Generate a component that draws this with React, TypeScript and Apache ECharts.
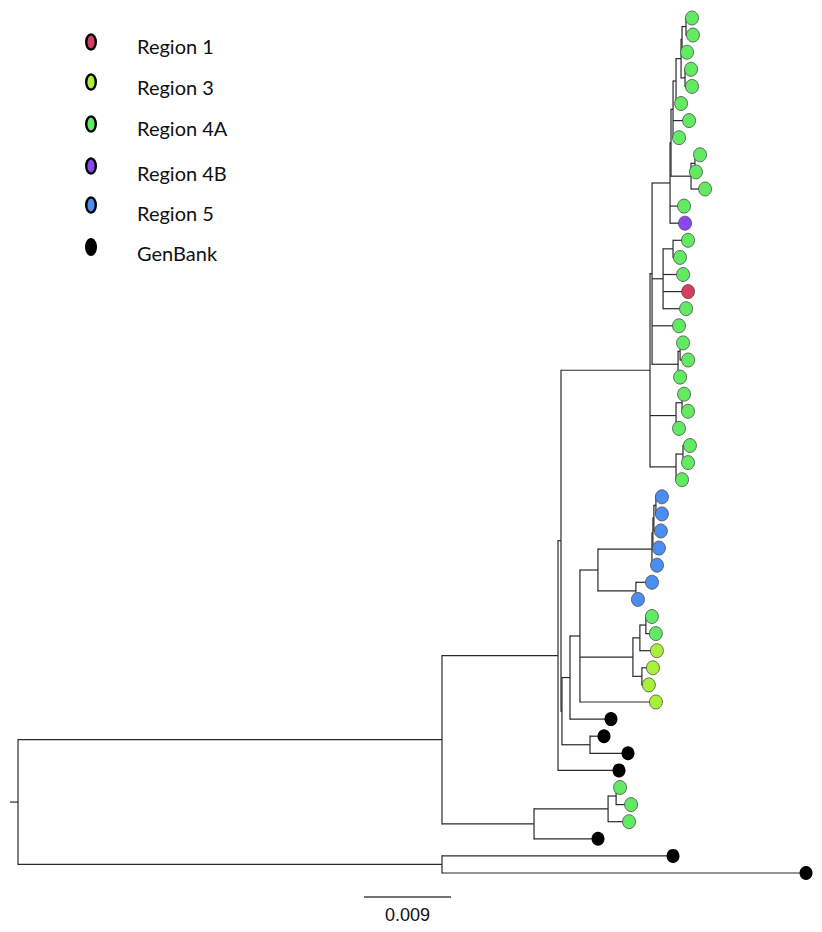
import React, { useEffect, useRef } from "react";
import * as echarts from "echarts";

// ---------- DATA ----------
const groupNames = ["Region 1", "Region 3", "Region 4A", "Region 4B", "Region 5", "GenBank"];
const groupColors = ["#d63e63", "#a9f03a", "#63ea63", "#8b48f0", "#4b8ef2", "#000000"];

// tips from top to bottom
const tipOrder = [
  "t1", "t2", "t3", "t4", "t5", "t6", "t7", "t8", "t9", "t10",
  "t11", "t12", "t13", "t14", "t15", "t16", "t17", "t18", "t19", "t20",
  "t21", "t22", "t23", "t24", "t25", "t26", "t27", "t28", "t29", "t30",
  "t31", "t32", "t33", "t34", "t35", "t36", "t37", "t38", "t39", "t40",
  "t41", "t42", "t43", "t44", "t45", "t46", "t47", "t48", "t49", "t50", "t51",
];
const tipGroups = [
  "Region 4A", "Region 4A", "Region 4A", "Region 4A", "Region 4A", "Region 4A", "Region 4A", "Region 4A", "Region 4A", "Region 4A",
  "Region 4A", "Region 4A", "Region 4B", "Region 4A", "Region 4A", "Region 4A", "Region 1", "Region 4A", "Region 4A", "Region 4A",
  "Region 4A", "Region 4A", "Region 4A", "Region 4A", "Region 4A", "Region 4A", "Region 4A", "Region 4A", "Region 5", "Region 5",
  "Region 5", "Region 5", "Region 5", "Region 5", "Region 5", "Region 4A", "Region 4A", "Region 3", "Region 3", "Region 3",
  "Region 3", "GenBank", "GenBank", "GenBank", "GenBank", "Region 4A", "Region 4A", "Region 4A", "GenBank", "GenBank", "GenBank",
];

const rootName = "root";
const rootStub = 0.00083;

// [child, parent, branch length]
const edges: [string, string, number][] = [
  ["up", "root", 0.04386], ["low", "root", 0.04386],
  ["t50", "low", 0.0239], ["t51", "low", 0.03766],
  ["P", "up", 0.012], ["M534", "up", 0.00952],
  ["M608", "M534", 0.00766], ["t49", "M534", 0.00662],
  ["M616", "M608", 0.00083], ["t48", "M608", 0.00217],
  ["t46", "M616", 0.00041], ["t47", "M616", 0.00155],
  ["Q", "P", 0.00031], ["t45", "P", 0.00631],
  ["T", "Q", 0.00921], ["R", "Q", 0.0001],
  ["N570", "R", 0.00083], ["N590", "R", 0.0029],
  ["t43", "N590", 0.00145], ["t44", "N590", 0.00393],
  ["N580", "N570", 0.00103], ["t42", "N570", 0.00424],
  ["Bl", "N580", 0.00186], ["Li", "N580", 0.00548], ["t41", "N580", 0.00786],
  ["b1", "Bl", 0.00559], ["N636", "Bl", 0.00393],
  ["t34", "N636", 0.00166], ["t35", "N636", 0.00021],
  ["b2", "b1", 0.0001], ["t33", "b1", 0.00052],
  ["b3", "b2", 0.0001], ["t32", "b2", 0.00062],
  ["b4", "b3", 0.00021], ["t31", "b3", 0.00072],
  ["t29", "b4", 0.00062], ["t30", "b4", 0.00062],
  ["U1", "Li", 0.00072], ["L2", "Li", 0.00093],
  ["U2", "U1", 0.00062], ["t38", "U1", 0.00176],
  ["t36", "U2", 0.00062], ["t37", "U2", 0.00103],
  ["t39", "L2", 0.00114], ["t40", "L2", 0.00072],
  ["A", "T", 0.00021], ["n23_25", "T", 0.00269], ["n26_28", "T", 0.00269],
  ["B", "A", 0.00186], ["G", "A", 0.00114], ["t19", "A", 0.00279], ["n20_22", "A", 0.00269],
  ["H", "B", 0.0001], ["t12", "B", 0.00145], ["t13", "B", 0.00155],
  ["n18", "H", 0.00021], ["n9_11", "H", 0.00207],
  ["n16", "n18", 0.00031], ["t7", "n18", 0.00166], ["t8", "n18", 0.00062],
  ["n15", "n16", 0.00052], ["t6", "n16", 0.00052],
  ["n123", "n15", 0.0001], ["n45", "n15", 0.00041],
  ["n12", "n123", 0.00041], ["t3", "n123", 0.00052],
  ["t1", "n12", 0.00062], ["t2", "n12", 0.00072],
  ["t4", "n45", 0.00062], ["t5", "n45", 0.00072],
  ["n9_10", "n9_11", 0.00041], ["t11", "n9_11", 0.00145],
  ["t9", "n9_10", 0.00052], ["t10", "n9_10", 0.0001],
  ["n14_15", "G", 0.00103], ["t16", "G", 0.00207], ["t17", "G", 0.00259], ["t18", "G", 0.00238],
  ["t14", "n14_15", 0.00155], ["t15", "n14_15", 0.00072],
  ["n20_21", "n20_22", 0.00021], ["t22", "n20_22", 0.00021],
  ["t20", "n20_21", 0.00031], ["t21", "n20_21", 0.00083],
  ["n23_24", "n23_25", 0.00062], ["t25", "n23_25", 0.00031],
  ["t23", "n23_24", 0.00021], ["t24", "n23_24", 0.00062],
  ["n26_27", "n26_28", 0.00072], ["t28", "n26_28", 0.00062],
  ["t26", "n26_27", 0.00072], ["t27", "n26_27", 0.00052],
];

const scaleBarValue = 0.009;
const scaleBarLabel = "0.009";

// ---------- LAYOUT ----------
function layoutTree() {
  const children: Record<string, string[]> = {};
  const parentOf: Record<string, string> = {};
  const blen: Record<string, number> = {};
  edges.forEach(([c, p, l]) => {
    (children[p] = children[p] || []).push(c);
    parentOf[c] = p;
    blen[c] = l;
  });
  const depth: Record<string, number> = {};
  const yPos: Record<string, number> = {};
  const setDepth = (n: string, d: number) => {
    depth[n] = d;
    (children[n] || []).forEach((c) => setDepth(c, d + blen[c]));
  };
  setDepth(rootName, rootStub);
  const setY = (n: string): number => {
    const ch = children[n];
    if (!ch) {
      yPos[n] = tipOrder.indexOf(n);
      return yPos[n];
    }
    const ys = ch.map(setY);
    yPos[n] = (Math.min(...ys) + Math.max(...ys)) / 2;
    return yPos[n];
  };
  setY(rootName);
  return { children, parentOf, depth, yPos };
}

export default function App() {
  const ref = useRef<HTMLDivElement>(null);
  useEffect(() => {
    if (!ref.current) return;
    const chart = echarts.init(ref.current, null, { renderer: "svg" });
    const { children, parentOf, depth, yPos } = layoutTree();

    const hData: number[][] = edges.map(([c]) => [depth[parentOf[c]], depth[c], yPos[c]]);
    hData.push([0, rootStub, yPos[rootName]]);
    const vData: number[][] = Object.keys(children).map((n) => {
      const ys = children[n].map((c) => yPos[c]);
      return [depth[n], Math.min(...ys), Math.max(...ys)];
    });
    const tipData = tipOrder.map((t, i) => {
      const g = groupNames.indexOf(tipGroups[i]);
      return {
        name: t,
        value: [depth[t], yPos[t]],
        itemStyle: {
          color: groupColors[g],
          opacity: 1,
          borderColor: g === 5 ? "#000" : "#4a4a4a",
          borderWidth: g === 5 ? 0 : 0.8,
        },
      };
    });

    const lineStyle = { stroke: "#2a2a2a", lineWidth: 1.2 };
    const xMax = 0.083;
    const gridLeft = 10;
    const gridWidth = (xMax * 87) / scaleBarValue;

    chart.setOption({
      animation: false,
      backgroundColor: "#ffffff",
      grid: { left: gridLeft, top: 18, width: gridWidth, height: 855 },
      xAxis: { type: "value", min: 0, max: xMax, show: false },
      yAxis: { type: "value", min: 0, max: 50, inverse: true, show: false },
      series: [
        {
          type: "custom",
          name: "branches",
          clip: false,
          silent: true,
          data: hData,
          encode: { x: [0, 1], y: 2 },
          renderItem: (_p: any, api: any) => {
            const a = api.coord([api.value(0), api.value(2)]);
            const b = api.coord([api.value(1), api.value(2)]);
            return { type: "line", shape: { x1: a[0], y1: a[1], x2: b[0], y2: b[1] }, style: lineStyle };
          },
        },
        {
          type: "custom",
          name: "joins",
          clip: false,
          silent: true,
          data: vData,
          encode: { x: 0, y: [1, 2] },
          renderItem: (_p: any, api: any) => {
            const a = api.coord([api.value(0), api.value(1)]);
            const b = api.coord([api.value(0), api.value(2)]);
            return { type: "line", shape: { x1: a[0], y1: a[1] - 0.6, x2: b[0], y2: b[1] + 0.6 }, style: lineStyle };
          },
        },
        {
          type: "scatter",
          name: "tips",
          clip: false,
          symbol: "circle",
          symbolSize: [13, 14],
          data: tipData,
          z: 5,
        },
      ],
    });

    const x0 = chart.convertToPixel({ xAxisIndex: 0 }, 0) as number;
    const x1 = chart.convertToPixel({ xAxisIndex: 0 }, scaleBarValue) as number;
    const barLen = x1 - x0;
    const barLeft = 364;

    const legendEllipseY = [42, 82, 124, 166, 205, 247];
    const legendTextY = [46, 87, 128, 173, 213, 253];
    const legend: any[] = [];
    groupNames.forEach((g, i) => {
      const black = i === 5;
      legend.push({
        type: "ellipse",
        shape: { cx: 91, cy: legendEllipseY[i], rx: black ? 6 : 4.8, ry: black ? 9 : 7.6 },
        style: { fill: groupColors[i], stroke: "#000", lineWidth: black ? 0 : 2.4 },
      });
      legend.push({
        type: "text",
        x: 137,
        y: legendTextY[i],
        style: {
          text: g,
          fill: "#111",
          font: "20px Lato, 'Open Sans', sans-serif",
          verticalAlign: "middle",
          align: "left",
        },
      });
    });

    chart.setOption({
      graphic: [
        ...legend,
        {
          type: "line",
          shape: { x1: barLeft, y1: 897, x2: barLeft + barLen, y2: 897 },
          style: { stroke: "#444", lineWidth: 1.5 },
        },
        {
          type: "text",
          x: barLeft + barLen / 2,
          y: 915,
          style: {
            text: scaleBarLabel,
            fill: "#111",
            font: "18px 'Liberation Sans Narrow', 'Liberation Sans', sans-serif",
            align: "center",
            verticalAlign: "middle",
          },
        },
      ],
    });

    return () => chart.dispose();
  }, []);
  return <div ref={ref} style={{ position: "fixed", left: 0, top: 0, width: 822, height: 932 }} />;
}
